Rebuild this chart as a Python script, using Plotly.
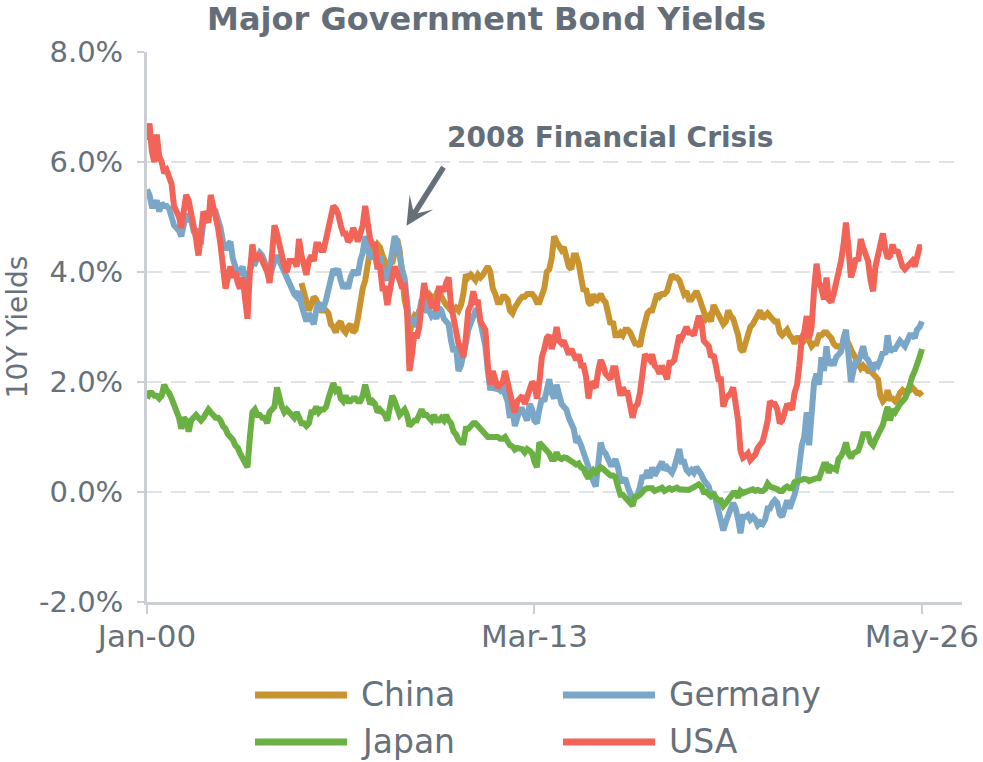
import pandas as pd
import plotly.graph_objects as go

# ---------------- data (monthly 10Y yields, %) ----------------
usa = [
    6.4, 6.7, 6.2, 6.0, 6.5, 6.1, 6.0, 5.8, 5.85, 5.7, 5.6, 5.2,      # 2000
    5.1, 5.0, 4.8, 5.2, 5.4, 5.3, 5.1, 4.9, 4.6, 4.3, 4.7, 5.1,       # 2001
    5.0, 4.9, 5.4, 5.2, 5.1, 4.8, 4.5, 4.1, 3.7, 3.9, 4.1, 3.9,       # 2002
    4.0, 3.8, 3.7, 3.9, 3.5, 3.15, 4.0, 4.5, 4.2, 4.3, 4.3, 4.2,      # 2003
    4.1, 4.0, 3.8, 4.5, 4.85, 4.7, 4.5, 4.2, 4.1, 4.0, 4.2, 4.2,      # 2004
    4.2, 4.1, 4.6, 4.3, 4.1, 3.95, 4.2, 4.3, 4.2, 4.5, 4.5, 4.4,      # 2005
    4.4, 4.6, 4.8, 5.0, 5.2, 5.15, 5.05, 4.85, 4.7, 4.7, 4.55, 4.6,   # 2006
    4.8, 4.7, 4.55, 4.7, 4.85, 5.2, 4.95, 4.6, 4.5, 4.5, 4.1, 4.1,    # 2007
    3.7, 3.7, 3.4, 3.7, 3.9, 4.1, 4.0, 3.85, 3.7, 3.8, 3.3, 2.2,      # 2008
    2.5, 2.9, 2.8, 3.0, 3.4, 3.8, 3.55, 3.6, 3.35, 3.4, 3.3, 3.7,     # 2009
    3.7, 3.65, 3.8, 3.9, 3.4, 3.15, 3.0, 2.7, 2.6, 2.45, 2.8, 3.3,    # 2010
    3.4, 3.65, 3.45, 3.45, 3.1, 3.0, 2.95, 2.3, 1.95, 2.2, 2.0, 1.9,  # 2011
    1.95, 2.0, 2.2, 2.0, 1.7, 1.6, 1.45, 1.65, 1.7, 1.75, 1.6, 1.75,  # 2012
    1.9, 2.0, 1.95, 1.7, 2.0, 2.45, 2.6, 2.8, 2.85, 2.6, 2.75, 3.0,   # 2013
    2.75, 2.7, 2.75, 2.65, 2.5, 2.6, 2.5, 2.4, 2.5, 2.3, 2.3, 2.1,    # 2014
    1.7, 2.0, 1.95, 1.9, 2.2, 2.4, 2.3, 2.15, 2.1, 2.05, 2.25, 2.25,  # 2015
    2.0, 1.75, 1.9, 1.8, 1.8, 1.5, 1.35, 1.55, 1.6, 1.8, 2.3, 2.5,    # 2016
    2.45, 2.4, 2.5, 2.3, 2.25, 2.15, 2.3, 2.15, 2.05, 2.35, 2.35, 2.4,# 2017
    2.6, 2.85, 2.8, 2.9, 3.0, 2.9, 2.9, 2.85, 3.05, 3.2, 3.1, 2.75,   # 2018
    2.7, 2.65, 2.45, 2.5, 2.3, 2.05, 2.05, 1.55, 1.7, 1.75, 1.8, 1.9, # 2019
    1.6, 1.3, 0.75, 0.62, 0.65, 0.7, 0.58, 0.62, 0.68, 0.8, 0.85, 0.92,  # 2020
    1.1, 1.3, 1.65, 1.6, 1.6, 1.5, 1.25, 1.3, 1.45, 1.6, 1.55, 1.5,   # 2021
    1.8, 1.95, 2.3, 2.8, 2.9, 3.2, 2.8, 3.0, 3.7, 4.15, 3.8, 3.7,     # 2022
    3.5, 3.9, 3.5, 3.45, 3.6, 3.8, 3.95, 4.2, 4.5, 4.9, 4.45, 3.9,    # 2023
    4.05, 4.25, 4.2, 4.6, 4.45, 4.3, 4.2, 3.85, 3.65, 4.1, 4.35, 4.5, # 2024
    4.7, 4.4, 4.25, 4.3, 4.5, 4.35, 4.4, 4.25, 4.1, 4.05, 4.1, 4.15,  # 2025
    4.2, 4.1, 4.3, 4.45, 4.45,                                        # 2026
]

germany = [
    5.5, 5.4, 5.2, 5.2, 5.3, 5.1, 5.25, 5.2, 5.2, 5.15, 5.0, 4.85,
    4.8, 4.75, 4.65, 4.85, 5.05, 4.95, 4.95, 4.75, 4.75, 4.55, 4.55, 4.9,
    4.95, 5.0, 5.15, 5.1, 5.1, 4.95, 4.8, 4.55, 4.4, 4.5, 4.55, 4.25,
    4.1, 3.95, 4.0, 4.1, 3.85, 3.7, 4.05, 4.15, 4.15, 4.25, 4.35, 4.3,
    4.2, 4.05, 3.9, 4.1, 4.2, 4.3, 4.2, 4.05, 4.0, 3.9, 3.8, 3.65,
    3.6, 3.55, 3.65, 3.4, 3.25, 3.1, 3.25, 3.15, 3.05, 3.3, 3.45, 3.3,
    3.35, 3.5, 3.7, 3.95, 4.05, 4.0, 4.05, 3.85, 3.7, 3.8, 3.7, 3.9,
    4.0, 4.0, 3.95, 4.2, 4.35, 4.65, 4.5, 4.25, 4.3, 4.3, 4.05, 4.3,
    4.0, 3.9, 3.85, 4.1, 4.35, 4.65, 4.55, 4.2, 4.05, 3.9, 3.5, 3.05,
    3.1, 3.15, 3.0, 3.2, 3.5, 3.45, 3.3, 3.3, 3.2, 3.25, 3.15, 3.35,
    3.3, 3.15, 3.1, 3.05, 2.75, 2.55, 2.65, 2.2, 2.3, 2.45, 2.7, 2.95,
    3.1, 3.2, 3.3, 3.3, 3.05, 2.95, 2.65, 2.2, 1.85, 2.05, 1.85, 1.9,
    1.85, 1.9, 1.8, 1.65, 1.35, 1.5, 1.2, 1.4, 1.5, 1.5, 1.4, 1.3,
    1.6, 1.5, 1.3, 1.25, 1.5, 1.7, 1.65, 1.9, 2.05, 1.8, 1.7, 1.95,
    1.7, 1.6, 1.55, 1.5, 1.35, 1.25, 1.15, 0.9, 0.95, 0.85, 0.7, 0.55,
    0.4, 0.3, 0.2, 0.1, 0.65, 0.9, 0.75, 0.7, 0.6, 0.5, 0.5, 0.6,
    0.45, 0.2, 0.2, 0.25, 0.1, -0.05, -0.15, -0.1, -0.05, 0.1, 0.3, 0.25,
    0.4, 0.25, 0.45, 0.3, 0.4, 0.45, 0.55, 0.4, 0.45, 0.4, 0.35, 0.45,
    0.65, 0.78, 0.55, 0.55, 0.4, 0.35, 0.4, 0.35, 0.45, 0.4, 0.32, 0.22,
    0.15, 0.1, -0.05, 0.0, -0.15, -0.35, -0.45, -0.7, -0.55, -0.4, -0.3, -0.2,
    -0.3, -0.5, -0.75, -0.45, -0.45, -0.42, -0.5, -0.45, -0.5, -0.6, -0.55, -0.58,
    -0.5, -0.3, -0.3, -0.2, -0.15, -0.2, -0.4, -0.45, -0.25, -0.15, -0.3, -0.2,
    -0.05, 0.15, 0.5, 0.85, 1.0, 1.45, 0.85, 1.3, 2.0, 2.15, 1.95, 2.45,
    2.2, 2.65, 2.3, 2.4, 2.3, 2.45, 2.5, 2.55, 2.8, 2.95, 2.5, 2.0,
    2.2, 2.4, 2.35, 2.55, 2.65, 2.45, 2.4, 2.3, 2.2, 2.35, 2.3, 2.4,
    2.55, 2.5, 2.85, 2.55, 2.6, 2.6, 2.7, 2.75, 2.7, 2.65, 2.75, 2.85,
    2.85, 2.8, 2.95, 3.0, 3.1,
]

japan = [
    1.7, 1.8, 1.8, 1.75, 1.75, 1.7, 1.75, 1.95, 1.85, 1.8, 1.7, 1.6,
    1.5, 1.35, 1.15, 1.35, 1.3, 1.1, 1.3, 1.35, 1.4, 1.35, 1.3, 1.35,
    1.45, 1.5, 1.45, 1.4, 1.35, 1.35, 1.3, 1.2, 1.15, 1.05, 1.0, 0.95,
    0.85, 0.8, 0.7, 0.6, 0.5, 0.45, 1.0, 1.45, 1.5, 1.4, 1.4, 1.35,
    1.35, 1.25, 1.45, 1.5, 1.55, 1.9, 1.7, 1.55, 1.45, 1.5, 1.45, 1.4,
    1.35, 1.45, 1.35, 1.25, 1.25, 1.2, 1.25, 1.45, 1.45, 1.55, 1.45, 1.5,
    1.5, 1.55, 1.7, 1.9, 1.98, 1.85, 1.9, 1.7, 1.65, 1.75, 1.65, 1.65,
    1.7, 1.7, 1.65, 1.65, 1.75, 1.95, 1.8, 1.6, 1.65, 1.6, 1.45, 1.5,
    1.45, 1.4, 1.3, 1.5, 1.75, 1.65, 1.55, 1.4, 1.45, 1.5, 1.4, 1.2,
    1.25, 1.3, 1.3, 1.4, 1.5, 1.4, 1.4, 1.35, 1.3, 1.4, 1.3, 1.3,
    1.35, 1.3, 1.4, 1.3, 1.25, 1.1, 1.05, 0.95, 0.9, 0.9, 1.15, 1.15,
    1.2, 1.25, 1.25, 1.2, 1.15, 1.1, 1.05, 1.0, 1.0, 1.0, 1.0, 1.0,
    0.97, 0.97, 1.0, 0.9, 0.85, 0.83, 0.77, 0.8, 0.78, 0.78, 0.72, 0.78,
    0.75, 0.7, 0.55, 0.45, 0.9, 0.85, 0.8, 0.75, 0.7, 0.6, 0.6, 0.72,
    0.62, 0.6, 0.63, 0.62, 0.58, 0.57, 0.53, 0.5, 0.52, 0.45, 0.42, 0.32,
    0.25, 0.35, 0.4, 0.35, 0.4, 0.45, 0.42, 0.38, 0.35, 0.3, 0.3, 0.27,
    0.1, -0.05, -0.05, -0.1, -0.12, -0.2, -0.25, -0.08, -0.08, -0.05, 0.02, 0.05,
    0.07, 0.08, 0.07, 0.02, 0.04, 0.07, 0.08, 0.02, 0.05, 0.07, 0.04, 0.05,
    0.08, 0.05, 0.04, 0.05, 0.04, 0.04, 0.06, 0.1, 0.13, 0.14, 0.1, 0.0,
    0.0, -0.03, -0.08, -0.05, -0.09, -0.15, -0.15, -0.25, -0.2, -0.15, -0.1, -0.02,
    -0.02, -0.1, 0.02, -0.02, 0.0, 0.02, 0.02, 0.05, 0.02, 0.04, 0.02, 0.02,
    0.05, 0.15, 0.1, 0.09, 0.08, 0.05, 0.02, 0.02, 0.07, 0.1, 0.07, 0.07,
    0.18, 0.2, 0.22, 0.23, 0.24, 0.23, 0.2, 0.22, 0.25, 0.25, 0.25, 0.42,
    0.5, 0.5, 0.35, 0.45, 0.43, 0.4, 0.6, 0.65, 0.75, 0.9, 0.7, 0.62,
    0.7, 0.72, 0.75, 0.88, 1.05, 1.05, 1.05, 0.9, 0.85, 0.95, 1.05, 1.1,
    1.22, 1.4, 1.55, 1.3, 1.5, 1.45, 1.55, 1.6, 1.65, 1.7, 1.8, 2.0,
    2.1, 2.2, 2.3, 2.45, 2.6,
]

china_start = "2005-04-01"
china = [
    3.8, 3.6, 3.4, 3.3, 3.4, 3.55, 3.5, 3.35, 3.3,                    # 2005 (Apr-Dec)
    3.3, 3.3, 3.25, 3.05, 3.0, 2.9, 3.05, 3.1, 2.95, 2.9, 3.0, 3.05,
    2.9, 2.95, 3.15, 3.5, 3.7, 3.85, 4.2, 4.4, 4.5, 4.4, 4.5, 4.45,
    4.3, 4.2, 4.0, 4.2, 4.15, 4.45, 4.6, 4.4, 3.9, 3.5, 3.3, 2.85,
    3.1, 3.2, 3.15, 3.3, 3.35, 3.4, 3.55, 3.6, 3.55, 3.5, 3.6, 3.7,
    3.55, 3.45, 3.4, 3.35, 3.3, 3.3, 3.35, 3.3, 3.4, 3.6, 3.95, 3.9,
    3.95, 3.9, 3.85, 3.95, 3.9, 3.95, 4.05, 4.1, 4.0, 3.7, 3.6, 3.45,
    3.45, 3.55, 3.55, 3.5, 3.3, 3.25, 3.35, 3.45, 3.5, 3.55, 3.55, 3.6,
    3.6, 3.6, 3.55, 3.45, 3.45, 3.6, 3.7, 4.0, 4.05, 4.25, 4.65, 4.55,
    4.45, 4.4, 4.45, 4.3, 4.1, 4.05, 4.3, 4.3, 4.15, 3.9, 3.65, 3.7,
    3.45, 3.4, 3.6, 3.45, 3.55, 3.6, 3.5, 3.45, 3.25, 3.05, 3.1, 2.85,
    2.85, 2.9, 2.85, 2.95, 2.95, 2.9, 2.8, 2.7, 2.7, 2.65, 2.9, 3.05,
    3.25, 3.3, 3.3, 3.45, 3.6, 3.55, 3.6, 3.6, 3.65, 3.8, 3.95, 3.9,
    3.9, 3.85, 3.75, 3.6, 3.65, 3.5, 3.5, 3.6, 3.65, 3.55, 3.4, 3.3,
    3.15, 3.2, 3.1, 3.4, 3.3, 3.25, 3.15, 3.05, 3.1, 3.3, 3.2, 3.15,
    3.0, 2.85, 2.6, 2.55, 2.7, 2.85, 3.0, 3.05, 3.15, 3.2, 3.3, 3.15,
    3.2, 3.25, 3.2, 3.15, 3.1, 3.1, 2.9, 2.85, 2.9, 2.95, 2.85, 2.8,
    2.7, 2.8, 2.8, 2.8, 2.75, 2.8, 2.75, 2.65, 2.7, 2.7, 2.85, 2.85,
    2.9, 2.9, 2.85, 2.8, 2.7, 2.65, 2.65, 2.6, 2.7, 2.7, 2.7, 2.6,
    2.5, 2.4, 2.3, 2.25, 2.3, 2.25, 2.2, 2.2, 2.15, 2.1, 2.05, 1.75,
    1.65, 1.7, 1.85, 1.7, 1.7, 1.65, 1.7, 1.8, 1.85, 1.8, 1.85, 1.85,
    1.9, 1.85, 1.8, 1.8, 1.75,
]

series_names = ["China", "Germany", "Japan", "USA"]
series_colors = ["#C9932F", "#7AA6C7", "#6AB043", "#F26457"]
tick_dates = ["2000-01-01", "2013-03-01", "2026-05-01"]
tick_labels = ["Jan-00", "Mar-13", "May-26"]
y_ticks = [-2, 0, 2, 4, 6, 8]
y_tick_labels = ["-2.0%", "0.0%", "2.0%", "4.0%", "6.0%", "8.0%"]

dates_main = pd.date_range("2000-01-01", periods=len(usa), freq="MS")
dates_china = pd.date_range(china_start, periods=len(china), freq="MS")

values = {"China": china, "Germany": germany, "Japan": japan, "USA": usa}
dates = {"China": dates_china, "Germany": dates_main, "Japan": dates_main, "USA": dates_main}

TEXT = "#67717B"
FONT = "DejaVu Sans"
AXIS = "#CBCFD4"

fig = go.Figure()
for name, col in zip(series_names, series_colors):
    fig.add_trace(go.Scatter(
        x=dates[name], y=values[name], mode="lines", name=name,
        line=dict(color=col, width=6), showlegend=False,
    ))

fig.update_layout(
    width=983, height=762,
    margin=dict(l=147, r=21, t=52, b=160),
    plot_bgcolor="white", paper_bgcolor="white",
    font=dict(family=FONT, color=TEXT, size=29),
    title=dict(text="<b>Major Government Bond Yields</b>", x=0.495, xref="container",
               xanchor="center", y=0.976, yref="container", yanchor="middle",
               font=dict(family=FONT, size=32, color="#646E78")),
)

fig.update_xaxes(
    type="date", range=["2000-01-01", "2027-09-10"], automargin=False,
    tickvals=tick_dates, ticktext=tick_labels,
    showgrid=False, showline=True, linecolor=AXIS, linewidth=3,
    ticks="outside", ticklen=9, tickwidth=2, tickcolor=AXIS,
    ticklabelstandoff=-4,
    tickfont=dict(size=31, color=TEXT), zeroline=False,
)
fig.update_yaxes(
    range=[-2, 8], tickvals=y_ticks, ticktext=y_tick_labels, automargin=False,
    showgrid=True, gridcolor="#E1E4E7", gridwidth=2, griddash="15px,9px",
    zeroline=False, showline=True, linecolor=AXIS, linewidth=3,
    ticks="outside", ticklen=7, tickwidth=2, tickcolor=AXIS,
    ticklabelstandoff=8,
    tickfont=dict(size=29, color=TEXT),
    title=dict(text="10Y Yields", font=dict(size=28, color=TEXT), standoff=4),
)

# annotation with arrow
fig.add_annotation(x="2008-10-25", y=4.84, xref="x", yref="y", text="",
                   showarrow=True, ax=38, ay=-60, arrowcolor="#66707A",
                   arrowwidth=5.5, arrowhead=3, arrowsize=0.85)
fig.add_annotation(x=0.568, y=0.845, xref="paper", yref="paper",
                   text="<b>2008 Financial Crisis</b>", showarrow=False,
                   xanchor="center", yanchor="middle",
                   font=dict(family=FONT, size=28, color="#646E78"))

# manual legend (2 columns)
legend_pos = [(0.1325, -0.169), (0.5104, -0.169), (0.1325, -0.2545), (0.5104, -0.2545)]
for (lx, ly), name, col in zip(legend_pos, series_names, series_colors):
    fig.add_shape(type="line", xref="paper", yref="paper",
                  x0=lx, x1=lx + 0.113, y0=ly, y1=ly,
                  line=dict(color=col, width=7))
    fig.add_annotation(x=lx + 0.128, y=ly, xref="paper", yref="paper",
                       text=name, showarrow=False, xanchor="left", yanchor="middle",
                       font=dict(family=FONT, size=33, color=TEXT))

fig.write_html("out.html")
